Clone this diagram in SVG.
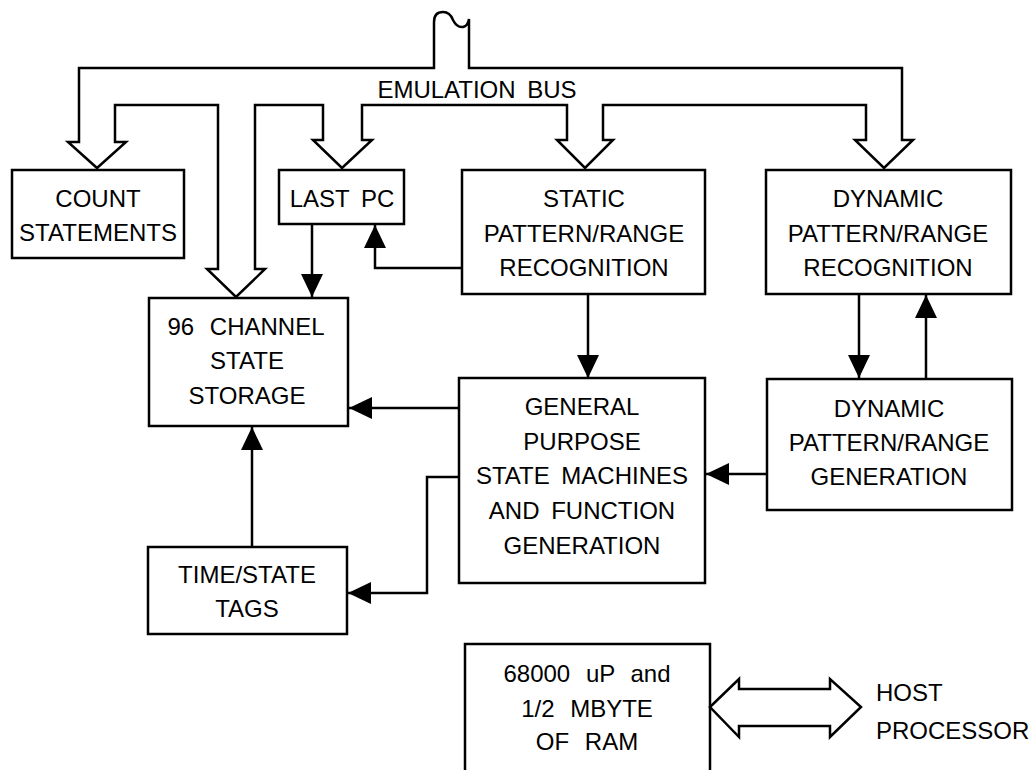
<svg xmlns="http://www.w3.org/2000/svg" width="1031" height="770" viewBox="0 0 1031 770">
<style>
.box{fill:none;stroke:#000;stroke-width:2.5}
.ln{fill:none;stroke:#000;stroke-width:2.5}
.bus{fill:none;stroke:#000;stroke-width:2.5;stroke-linejoin:miter}
text{font-family:"Liberation Sans",Arial,sans-serif;font-size:24px;fill:#000;text-anchor:middle;word-spacing:5px}
.l{text-anchor:start}
.ws{word-spacing:9px}
</style>
<defs>
<marker id="ah" markerUnits="userSpaceOnUse" markerWidth="23" markerHeight="22" refX="23" refY="11" orient="auto">
<path d="M0,0 L23,11 L0,22 Z" fill="#000"/>
</marker>
</defs>
<rect width="1031" height="770" fill="#fff"/>

<g id="connectors">
<path id="emulation-bus" class="bus" d="M115,142 H126 L97,168 L68,142 H79 V68 H434 V22 Q434,12 443,12 Q450,12 453,20 Q457,28 463,27 Q468,26 469,19 V68 H902 V140 H913 L884,168 L855,140 H866 V105 H603 V140 H613 L585,168 L557,140 H567 V105 H362 V140 H372 L342,168 L313,140 H323 V105 H255 V269 H265 L236,297 L207,269 H218 V105 H115 Z"/>
<text x="477" y="98">EMULATION BUS</text>
<path class="ln" d="M312,224 V297" marker-end="url(#ah)"/>
<path class="ln" d="M462,268 H375 V225" marker-end="url(#ah)"/>
<path class="ln" d="M459,408 H349" marker-end="url(#ah)"/>
<path class="ln" d="M588,294 V378" marker-end="url(#ah)"/>
<path class="ln" d="M859,294 V378" marker-end="url(#ah)"/>
<path class="ln" d="M926,379 V295" marker-end="url(#ah)"/>
<path class="ln" d="M767,474 H706" marker-end="url(#ah)"/>
<path class="ln" d="M459,477 H427 V593 H348" marker-end="url(#ah)"/>
<path class="ln" d="M252,547 V427" marker-end="url(#ah)"/>
<path id="host-link" class="ln" fill="#fff" d="M710,707 L739,679 V689 H830 V679 L861,707 L830,737 V726 H739 V737 Z"/>
</g>

<g id="count-statements">
<rect class="box" x="12" y="170" width="172" height="88"/>
<text x="98" y="207">COUNT</text>
<text x="98" y="241">STATEMENTS</text>
</g>

<g id="last-pc">
<rect class="box" x="279" y="170" width="125" height="54"/>
<text x="342" y="207">LAST PC</text>
</g>

<g id="static-recognition">
<rect class="box" x="462" y="170" width="243" height="124"/>
<text x="584" y="207">STATIC</text>
<text x="584" y="242">PATTERN/RANGE</text>
<text x="584" y="276">RECOGNITION</text>
</g>

<g id="dynamic-recognition">
<rect class="box" x="766" y="170" width="245" height="124"/>
<text x="888" y="207">DYNAMIC</text>
<text x="888" y="242">PATTERN/RANGE</text>
<text x="888" y="276">RECOGNITION</text>
</g>

<g id="state-storage">
<rect class="box" x="149" y="298" width="199" height="128"/>
<text x="246" y="335" class="ws">96 CHANNEL</text>
<text x="247" y="369">STATE</text>
<text x="247" y="404">STORAGE</text>
</g>

<g id="general-purpose">
<rect class="box" x="459" y="378" width="246" height="205"/>
<text x="582" y="415">GENERAL</text>
<text x="582" y="450">PURPOSE</text>
<text x="582" y="484">STATE MACHINES</text>
<text x="582" y="519">AND FUNCTION</text>
<text x="582" y="554">GENERATION</text>
</g>

<g id="dynamic-generation">
<rect class="box" x="767" y="379" width="245" height="131"/>
<text x="889" y="417">DYNAMIC</text>
<text x="889" y="451">PATTERN/RANGE</text>
<text x="889" y="485">GENERATION</text>
</g>

<g id="time-state-tags">
<rect class="box" x="148" y="547" width="199" height="87"/>
<text x="247" y="583">TIME/STATE</text>
<text x="247" y="617">TAGS</text>
</g>

<g id="processor">
<rect class="box" x="465" y="644" width="245" height="140"/>
<text x="587" y="682" class="ws">68000 uP and</text>
<text x="587" y="717" class="ws">1/2 MBYTE</text>
<text x="587" y="750" class="ws">OF RAM</text>
</g>

<g id="host-processor">
<text class="l" x="876" y="701">HOST</text>
<text class="l" x="876" y="739">PROCESSOR</text>
</g>
</svg>
